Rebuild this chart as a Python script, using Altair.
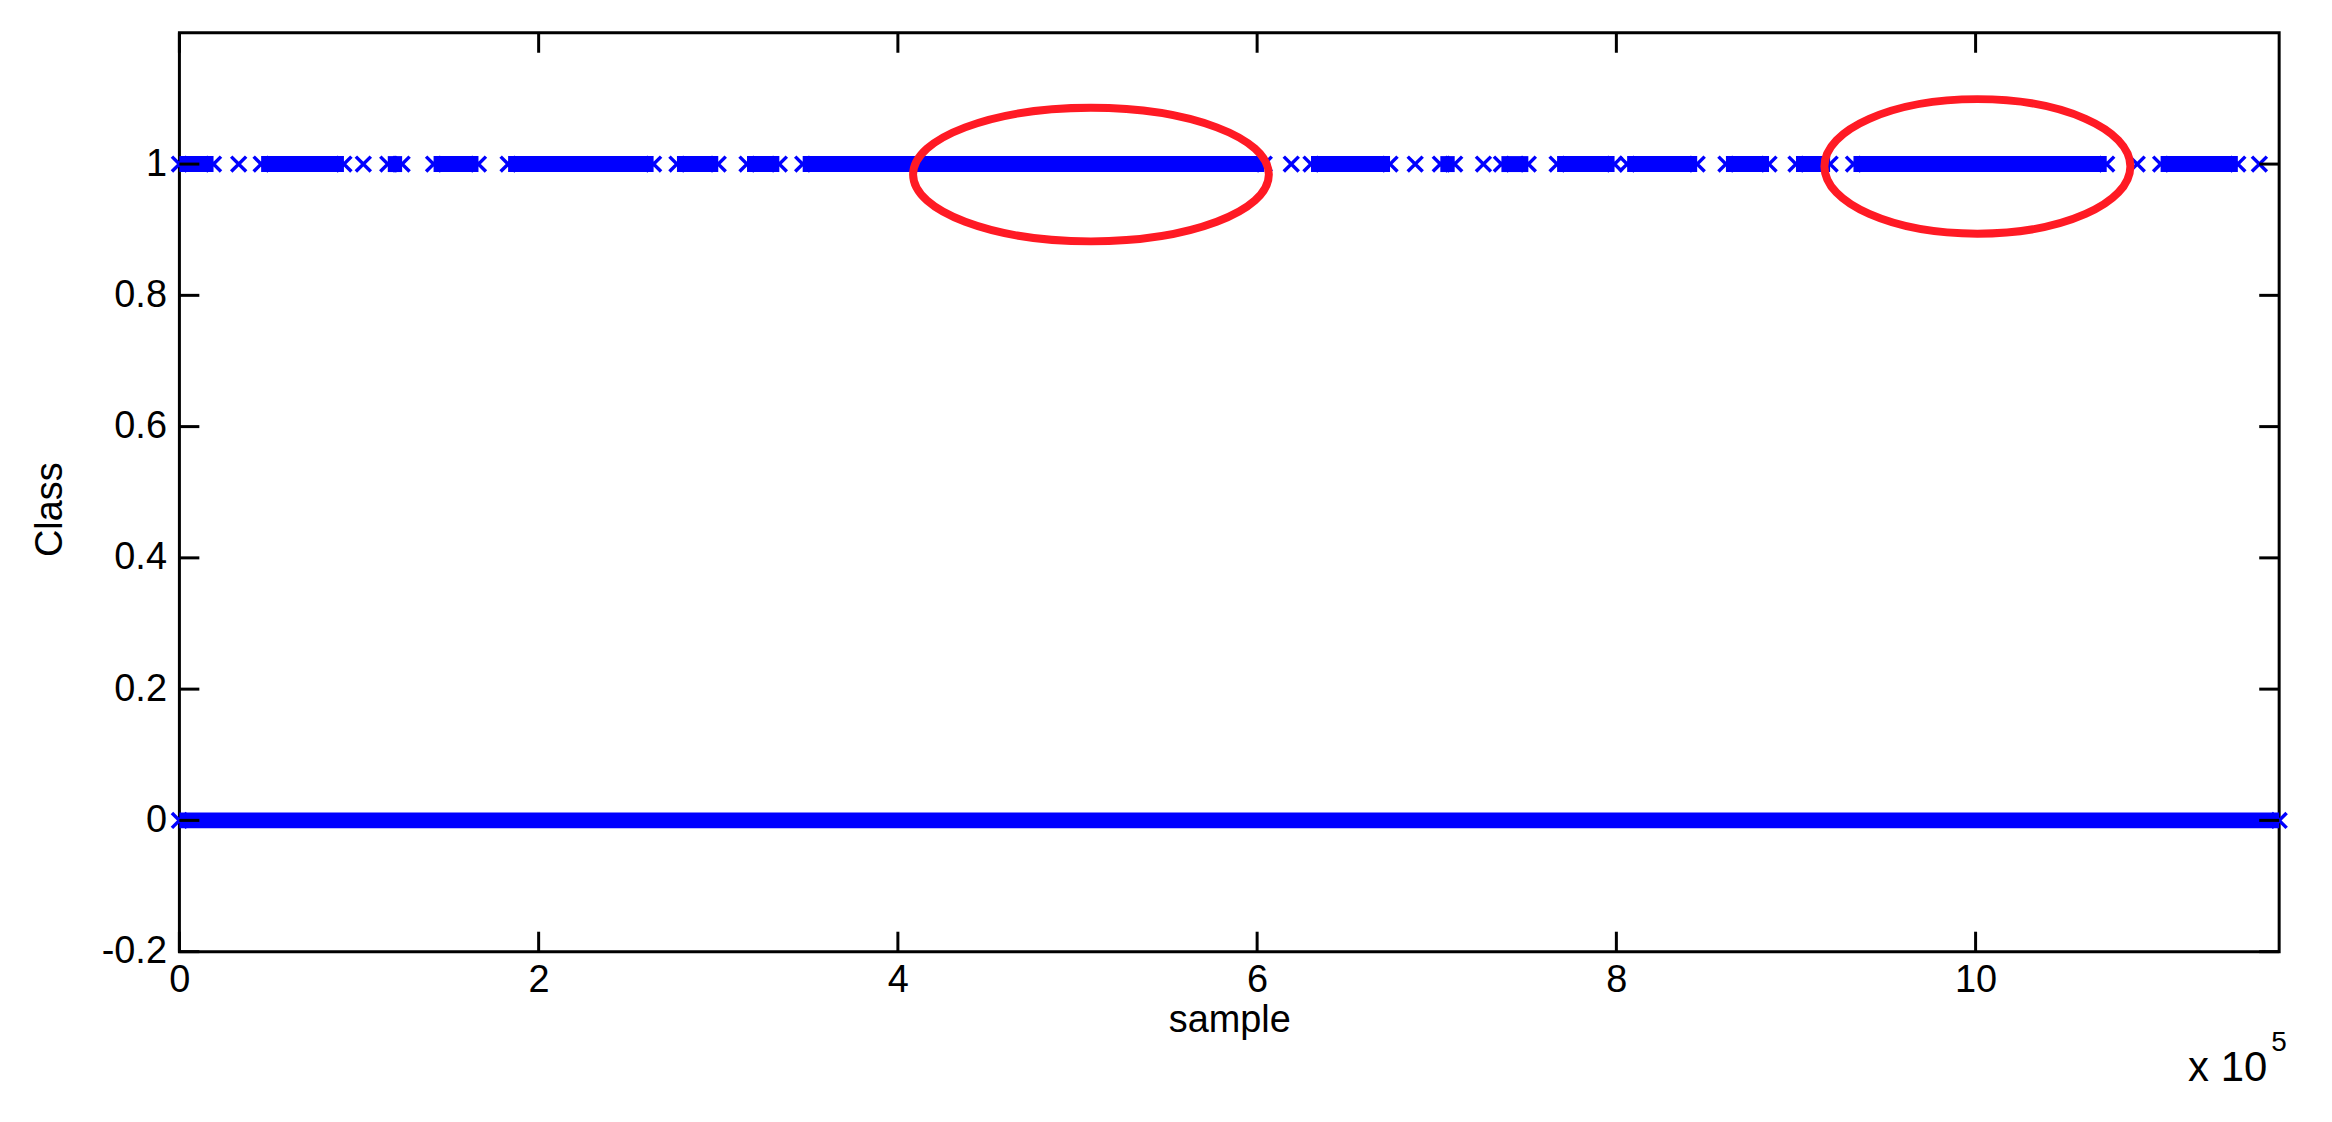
import altair as alt
import pandas as pd

# ---------------- data (x in units of 1e5 samples) ----------------
# class 1: dense runs of markers (first / last marker of each run) and isolated markers
run1_start = [0.00, 0.455, 1.16, 1.415, 1.83, 2.77, 3.16, 3.47, 6.30, 7.02, 7.36, 7.67, 8.06, 8.61, 9.00, 9.32, 11.03]
run1_end = [0.19, 0.916, 1.24, 1.665, 2.64, 3.00, 3.34, 6.04, 6.74, 7.10, 7.51, 7.99, 8.45, 8.85, 9.19, 10.73, 11.46]
single1_x = [0.33, 1.024, 6.19, 6.88, 7.26, 10.90, 11.58]
# class 0: continuous band of markers
run0_start = [0.0]
run0_end = [11.69]
# axes
x_ticks = [0, 2, 4, 6, 8, 10]
y_ticks = [-0.2, 0, 0.2, 0.4, 0.6, 0.8, 1]
x_domain = [0, 11.69]
y_domain = [-0.2, 1.2]
# red annotation ellipses (centres in data units)
ellipse_x = [5.075, 10.01]
ellipse_y = [0.984, 0.9965]

# ---------------- styles ----------------
W, H = 2107, 922
FONT = "Liberation Sans"
FS = 38
BLUE = "#0000ff"
RED = "#ff1a24"
XPATH = "M-1,-1L1,1M-1,1L1,-1"
MSIZE = 15
BAND = 16
ellipse_w_px = [357, 307]
ellipse_h_px = [134, 135]
TICK = 20


def ellipse_path(r):
    k = 0.5523
    return (f"M -1 0 C -1 {-k*r:.4f} {-k:.4f} {-r:.4f} 0 {-r:.4f} "
            f"C {k:.4f} {-r:.4f} 1 {-k*r:.4f} 1 0 "
            f"C 1 {k*r:.4f} {k:.4f} {r:.4f} 0 {r:.4f} "
            f"C {-k:.4f} {r:.4f} -1 {k*r:.4f} -1 0 Z")


xscale = alt.Scale(domain=x_domain, nice=False, zero=False)
yscale = alt.Scale(domain=y_domain, nice=False, zero=False)

xaxis = alt.Axis(values=x_ticks, labelExpr="'' + datum.value", title="sample",
                 grid=False, domain=False, ticks=False, tickSize=0,
                 labelFont=FONT, labelFontSize=FS, labelColor="black",
                 labelPadding=40, labelBaseline="alphabetic", labelFlush=False,
                 labelOverlap=False,
                 titleFont=FONT, titleFontSize=FS, titleFontWeight="normal",
                 titleColor="black", titleX=W / 2, titleY=80,
                 titleBaseline="alphabetic", titleAlign="center")
yaxis = alt.Axis(values=y_ticks, labelExpr="'' + datum.value", title="Class",
                 grid=False, domain=False, ticks=False, tickSize=0,
                 labelFont=FONT, labelFontSize=FS, labelColor="black",
                 labelPadding=13, labelBaseline="middle", labelAlign="right",
                 labelFlush=False, labelOverlap=False,
                 titleFont=FONT, titleFontSize=FS, titleFontWeight="normal",
                 titleColor="black", titleAngle=270, titleX=-118, titleY=478,
                 titleBaseline="alphabetic", titleAlign="center")


def X(field="x"):
    return alt.X(f"{field}:Q", scale=xscale, axis=xaxis)


def Y(field="y"):
    return alt.Y(f"{field}:Q", scale=yscale, axis=yaxis)


runs = pd.DataFrame({
    "x": run1_start + run0_start,
    "x2": run1_end + run0_end,
    "y": [1] * len(run1_start) + [0] * len(run0_start),
})
# markers: isolated ones plus the first/last marker of every run
marks_x = single1_x + run1_start + run1_end + run0_start + run0_end
marks_y = ([1] * (len(single1_x) + len(run1_start) + len(run1_end))
           + [0] * (len(run0_start) + len(run0_end)))
markers = pd.DataFrame({"x": marks_x, "y": marks_y})

run_layer = alt.Chart(runs).mark_rule(color=BLUE, strokeWidth=BAND, strokeCap="butt").encode(
    x=X(), x2="x2:Q", y=Y())
pt_layer = alt.Chart(markers).mark_point(shape=XPATH, size=MSIZE * MSIZE, filled=False, color=BLUE,
                                         strokeWidth=3.5, opacity=1).encode(x=X(), y=Y())

xt = pd.DataFrame({"x": x_ticks})
yt = pd.DataFrame({"y": y_ticks})
tick_layers = [
    alt.Chart(xt).mark_rule(color="black", strokeWidth=3).encode(x=X(), y=alt.value(H), y2=alt.value(H - TICK)),
    alt.Chart(xt).mark_rule(color="black", strokeWidth=3).encode(x=X(), y=alt.value(0), y2=alt.value(TICK)),
    alt.Chart(yt).mark_rule(color="black", strokeWidth=3).encode(y=Y(), x=alt.value(0), x2=alt.value(TICK)),
    alt.Chart(yt).mark_rule(color="black", strokeWidth=3).encode(y=Y(), x=alt.value(W), x2=alt.value(W - TICK)),
]

ellipse_layers = []
for ex, ey, ew, eh in zip(ellipse_x, ellipse_y, ellipse_w_px, ellipse_h_px):
    ellipse_layers.append(
        alt.Chart(pd.DataFrame({"x": [ex], "y": [ey]})).mark_point(
            shape=ellipse_path(eh / ew), size=ew * ew, filled=False, color=RED,
            strokeWidth=8, opacity=1).encode(x=X(), y=Y()))

exp_base = alt.Chart(pd.DataFrame({"t": ["x 10"]})).mark_text(
    font=FONT, fontSize=42, color="black", align="right", baseline="alphabetic").encode(
    text="t:N", x=alt.value(2095), y=alt.value(1052))
exp_sup = alt.Chart(pd.DataFrame({"t": ["5"]})).mark_text(
    font=FONT, fontSize=28, color="black", align="left", baseline="alphabetic").encode(
    text="t:N", x=alt.value(2099), y=alt.value(1022))

chart = alt.layer(run_layer, pt_layer, *tick_layers, *ellipse_layers, exp_base, exp_sup).properties(
    width=W, height=H,
    padding={"left": 172, "top": 23, "right": 45, "bottom": 160},
    autosize=alt.AutoSizeParams(type="none"),
    background="white",
).configure_view(stroke="black", strokeWidth=3)

chart.save("out.html", embed_options={"renderer": "svg", "actions": False})
